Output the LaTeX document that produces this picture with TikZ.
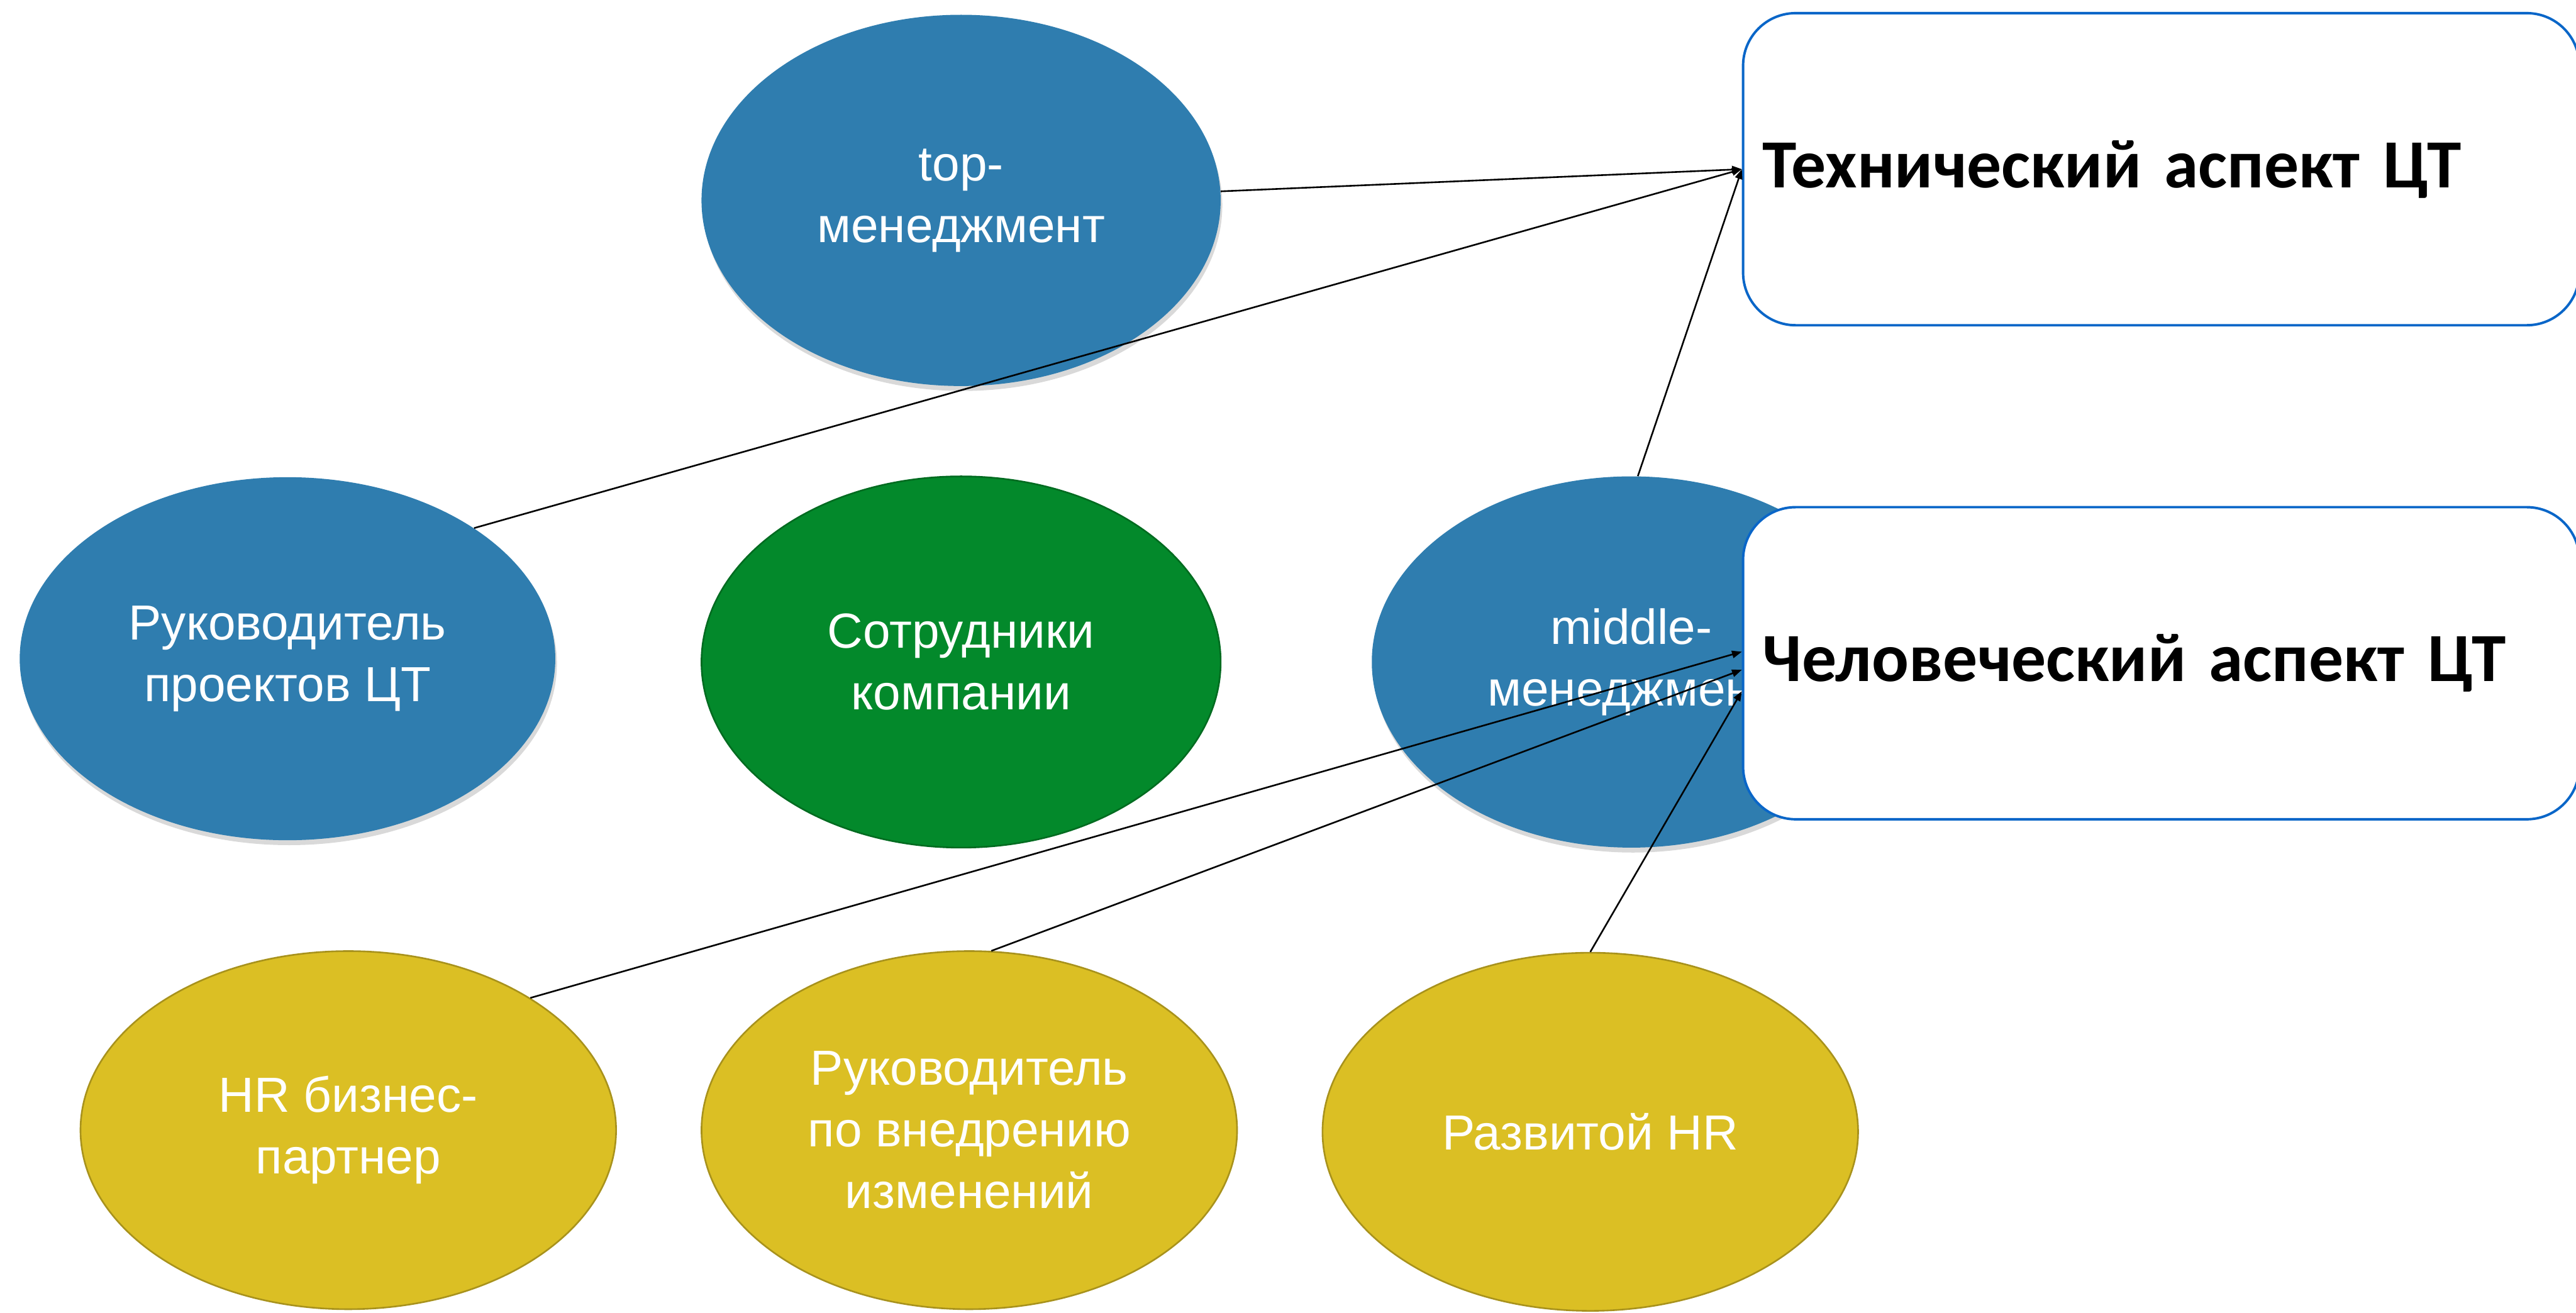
\documentclass[tikz,border=0pt]{standalone}
\usepackage{fontspec}
\setmainfont{Liberation Sans}
\newfontfamily\boxfont{Carlito}
\usetikzlibrary{shapes.geometric, arrows.meta, shadows}
\definecolor{bb}{RGB}{47, 125, 175}
\definecolor{gg}{RGB}{3, 137, 43}
\definecolor{gd}{RGB}{0, 107, 32}
\definecolor{yy}{RGB}{219, 191, 36}
\definecolor{yd}{RGB}{168, 146, 28}
\definecolor{ll}{RGB}{10, 102, 200}

\begin{document}
\begin{tikzpicture}[every node/.style={inner sep=0pt},
  ell/.style={ellipse, minimum width=316pt, minimum height=226pt, text=white, align=center, font=\fontsize{30}{37.5}\selectfont},
  ellblue/.style={ell, fill=bb, drop shadow={shadow xshift=1pt, shadow yshift=-3pt, opacity=0.3}},
  ellgreen/.style={ell, fill=gg, draw=gd, line width=1pt},
  ellyellow/.style={ell, fill=yy, draw=yd, line width=1pt, minimum width=326pt, minimum height=218pt},
  aspect/.style={rectangle, rounded corners=32pt, fill=white, draw=ll, line width=1.5pt, minimum width=509pt, minimum height=190pt, text width=485pt, align=left, font=\fontsize{42}{50}\boxfont\bfseries},
  link/.style={line width=1pt, -{Triangle[length=6pt, width=4.5pt]}}]
\useasboundingbox (0pt, 0pt) rectangle (1568pt, -799pt);
\node (1) [ellblue] at (585pt, -122pt) {top-\\менеджмент};
\node (2) [ellblue, minimum width=326pt, minimum height=221pt] at (175pt, -401pt) {Руководитель\\проектов ЦТ};
\node (3) [ellgreen] at (585pt, -403pt) {Сотрудники\\компании};
\node (4) [ellblue] at (993pt, -403pt) {middle-\\менеджмент};
\node (5) [ellyellow] at (212pt, -688pt) {HR бизнес-\\партнер};
\node (6) [ellyellow] at (590pt, -688pt) {Руководитель\\по внедрению\\изменений};
\node (7) [ellyellow] at (968pt, -689pt) {Развитой HR};
\node (8) [aspect] at (1315.5pt, -103pt) {Технический аспект ЦТ};
\node (9) [aspect] at (1315.5pt, -403.75pt) {Человеческий аспект ЦТ};
\draw [link] (1.2) to (8.west);
\draw [link] (2.35) to (8.west);
\draw [link] (4.88) to (8.west);
\draw [link] (5.36) to ([yshift=7pt]9.west);
\draw [link] (6.83) to ([yshift=-4pt]9.west);
\draw [link] (7.north) to ([yshift=-17pt]9.west);
\end{tikzpicture}
\end{document}
